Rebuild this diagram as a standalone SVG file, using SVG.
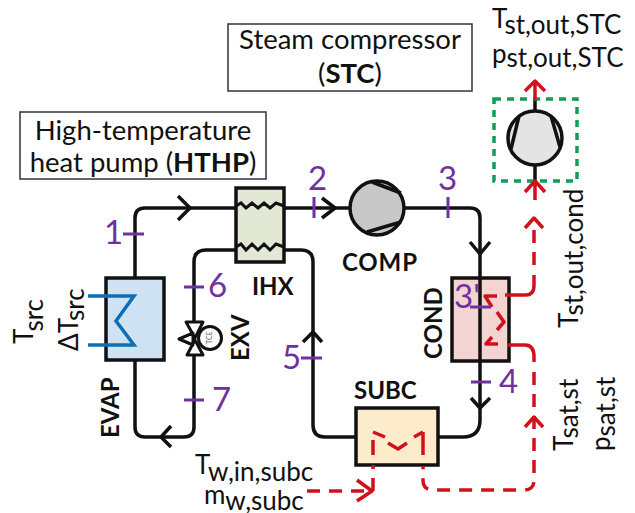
<svg xmlns="http://www.w3.org/2000/svg" width="635" height="513" viewBox="0 0 635 513">
<style>
text{font-family:"Lato","Liberation Sans",sans-serif;fill:#111}
.lb{font-size:27.5px}
.s{font-size:26px}
.b{font-weight:700;font-size:24px}
.n{font-size:33px;fill:#7030a0}
.box{fill:#fff;stroke:#333;stroke-width:1.5}
.hx{stroke:#111;stroke-width:3.5}
.pipe{fill:none;stroke:#111;stroke-width:3.5;stroke-linejoin:round}
.red{fill:none;stroke:#d2101c;stroke-width:3.5;stroke-dasharray:13 9;stroke-linejoin:round}
.reds{fill:none;stroke:#d2101c;stroke-width:3.5;stroke-linejoin:round}
.tick{fill:none;stroke:#7030a0;stroke-width:3}
.blue{fill:none;stroke:#0f6db3;stroke-width:3.5}
.wave{fill:none;stroke:#111;stroke-width:3}
</style>
<g id="connectors">
<path class="pipe" d="M135 278V218Q135 208 145 208H236"/>
<path class="pipe" d="M178 196L190 208L178 220"/>
<path class="pipe" d="M284 208H350"/>
<path class="pipe" d="M322 198L335 208L322 218"/>
<path class="pipe" d="M404 208H470Q480 208 480 218V278"/>
<path class="pipe" d="M470 242L480 254L490 242"/>
<path class="pipe" d="M480 361V420Q480 437 463 437H438"/>
<path class="pipe" d="M471 398L480 408L490 398"/>
<path class="pipe" d="M356 437H325Q313 437 313 425V262Q313 250 301 250H284"/>
<path class="pipe" d="M303 342L313 332L322 342"/>
<path class="pipe" d="M236 250H206Q194 250 194 262V322"/>
<path class="pipe" d="M194 355V427Q194 437 184 437H145Q135 437 135 427V360"/>
<path class="pipe" d="M171 426L161 437L171 447"/>
<path class="pipe" d="M535 165V181"/>
<path class="pipe" d="M535 100V111"/>
</g>
<g id="evap">
<rect class="hx" x="106" y="278" width="58" height="82" fill="#cfe2f3"/>
<path class="blue" d="M88 296H134L116 321L134 345H88"/>
<text class="b" transform="translate(119 438) rotate(-90)">EVAP</text>
<text class="s" transform="translate(33 344) rotate(-90)">T<tspan dy="10">src</tspan></text>
<text class="s" transform="translate(78 351) rotate(-90)">ΔT<tspan dy="6">src</tspan></text>
</g>
<g id="ihx">
<rect class="hx" x="236" y="188" width="48" height="74" fill="#e2e8d4"/>
<path class="wave" d="M236 206L241 203L246 208L252 203L258 208L264 203L270 208L276 203L284 206"/>
<path class="wave" d="M236 247L241 244L246 250L252 244L258 250L264 244L270 250L276 244L284 247"/>
<text class="b" x="252" y="295">IHX</text>
</g>
<g id="comp">
<circle cx="377" cy="208" r="27" fill="#c8c8c8" stroke="#111" stroke-width="3.5"/>
<path class="pipe" d="M372 182L401 193M367 232L401 222"/>
<text class="b" x="342" y="271" textLength="75">COMP</text>
</g>
<g id="cond">
<rect class="hx" x="452" y="278" width="57" height="83" fill="#f4d4d0"/>
<path class="pipe" d="M480 278V361"/>
<text class="b" transform="translate(442 359) rotate(-90)">COND</text>
</g>
<g id="subc">
<rect class="hx" x="356" y="408" width="82" height="57" fill="#fdeccc"/>
<text class="b" x="354" y="399">SUBC</text>
</g>
<g id="exv">
<path fill="#fff" stroke="#111" stroke-width="3" stroke-linejoin="round" d="M186 322H203L195 338ZM187 355H203L195 340ZM179 339L193 333V345Z"/>
<circle cx="210" cy="338" r="11.5" fill="#fff" stroke="#111" stroke-width="3"/>
<text transform="translate(212 344) rotate(-90)" style="font-size:7px;fill:#666">TCE</text>
<text class="b" transform="translate(249 361) rotate(-90)">EXV</text>
</g>
<g id="stc-compressor">
<rect x="494" y="99" width="83" height="82" fill="none" stroke="#0f9d58" stroke-width="3.5" stroke-dasharray="7 6"/>
<circle cx="535" cy="138" r="27" fill="#e4e4e4" stroke="#111" stroke-width="3.5"/>
<path class="pipe" d="M519 116L511 149M551 116L560 147"/>
</g>
<g id="steam-connectors">
<path class="reds" d="M535 100V82M525 91L535 81L545 91"/>
<path class="reds" d="M535 200V182M525 192L535 181L545 192"/>
<path class="reds" d="M505 295H526Q534 295 534 285V275"/>
<path class="red" d="M534 265V220"/>
<path class="reds" d="M525 228L534 218L543 228"/>
<path class="reds" d="M497 296H485L492 307M497 312L504 322L497 330M498 344H486L492 337"/>
<path class="reds" d="M507 345H525Q534 345 534 357V362"/>
<path class="red" d="M534 372V480Q534 490 524 490H433Q423 490 423 480V466"/>
<path class="reds" d="M525 427L534 417L543 427"/>
<path class="reds" d="M423 432V455M414 437L423 432M407 443L398 449L388 443M385 437L373 432M373 440V455"/>
<path class="red" d="M307 491H373V465"/>
<path class="reds" d="M357 480L372 491L357 501"/>
</g>
<g id="hthp-label">
<rect class="box" x="20" y="112" width="246" height="67"/>
<text class="lb" x="143" y="140" text-anchor="middle">High-temperature</text>
<text class="lb" x="143" y="172" text-anchor="middle">heat pump (<tspan font-weight="700">HTHP</tspan>)</text>
</g>
<g id="stc-label">
<rect class="box" x="228" y="24" width="244" height="67"/>
<text class="lb" x="350" y="49" text-anchor="middle">Steam compressor</text>
<text class="lb" x="350" y="83" text-anchor="middle">(<tspan font-weight="700">STC</tspan>)</text>
</g>
<g id="state-points">
<path class="tick" d="M123 234H144M314 197V218M448 197V218M184 287H204M184 400H204M301 358H322M471 382H491M470 307H491"/>
<text class="n" x="104" y="244">1</text>
<text class="n" x="308" y="190">2</text>
<text class="n" x="438" y="190">3</text>
<text class="n" x="454" y="308">3'</text>
<text class="n" x="499" y="393">4</text>
<text class="n" x="282" y="369">5</text>
<text class="n" x="208" y="297">6</text>
<text class="n" x="212" y="411">7</text>
</g>
<g id="labels">
<text class="s" x="492" y="28">T<tspan dy="6">st,out,STC</tspan></text>
<text class="s" x="492" y="63">p<tspan dy="4">st,out,STC</tspan></text>
<text class="s" transform="translate(578 328) rotate(-90)">T<tspan dy="5">st,out,cond</tspan></text>
<text class="s" transform="translate(573 451) rotate(-90)">T<tspan dy="5">sat,st</tspan></text>
<text class="s" transform="translate(610 451) rotate(-90)">p<tspan dy="5">sat,st</tspan></text>
<text class="s" x="195" y="474">T<tspan dy="7">w,in,subc</tspan></text>
<text class="s" x="204" y="504">m<tspan dy="6">w,subc</tspan></text>
</g>
</svg>
